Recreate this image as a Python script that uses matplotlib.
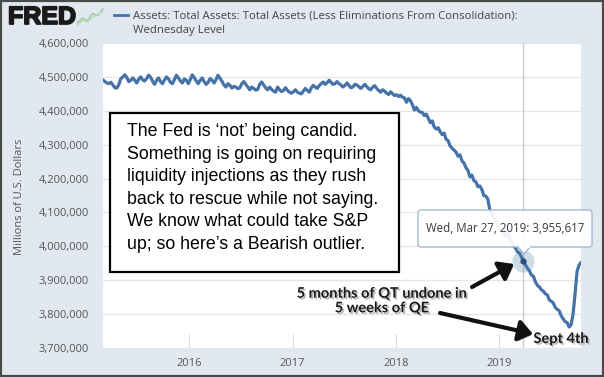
import numpy as np
import pandas as pd
import matplotlib
matplotlib.use("Agg")
import matplotlib.pyplot as plt
import matplotlib.dates as mdates
import matplotlib.ticker as mticker
import matplotlib.patheffects as pe
from matplotlib.patches import Rectangle, FancyBboxPatch, Polygon, FancyArrowPatch
from matplotlib.transforms import IdentityTransform

# weekly total assets, billions of dollars (Wednesday level)
assets_2015 = [4491, 4486, 4482, 4480,
               4484, 4476, 4468, 4467, 4478,
               4495, 4500, 4506, 4498,
               4486, 4490, 4497, 4490,
               4482, 4493, 4500, 4491, 4488,
               4495, 4505, 4499, 4487,
               4478, 4490, 4497, 4486, 4480,
               4491, 4500, 4494, 4484,
               4480, 4492, 4505, 4497,
               4488, 4482, 4494, 4490, 4480]
assets_2016 = [4492, 4506, 4498, 4488,
               4480, 4490, 4497, 4486,
               4478, 4484, 4495, 4490, 4482,
               4492, 4505, 4496, 4487,
               4476, 4470, 4480, 4475,
               4467, 4472, 4470, 4465, 4468,
               4480, 4486, 4478, 4470,
               4462, 4470, 4466, 4461, 4463,
               4478, 4485, 4476, 4468,
               4462, 4470, 4463, 4458,
               4455, 4470, 4462, 4457, 4460,
               4468, 4460, 4455, 4452]
assets_2017 = [4456, 4462, 4455, 4452,
               4450, 4458, 4466, 4460,
               4455, 4467, 4475, 4470, 4466,
               4474, 4480, 4485, 4478,
               4483, 4490, 4484, 4478, 4480,
               4486, 4480, 4476, 4470,
               4475, 4482, 4475, 4468,
               4470, 4478, 4476, 4471, 4466,
               4472, 4478, 4471, 4465,
               4462, 4470, 4474, 4466,
               4460, 4455, 4462, 4458, 4452,
               4448, 4456, 4450, 4445]
assets_2018 = [4447, 4442, 4446, 4440, 4438,
               4425, 4436, 4430, 4418,
               4402, 4410, 4400, 4396,
               4395, 4386, 4390, 4378,
               4365, 4370, 4352, 4346, 4350,
               4338, 4330, 4334, 4316,
               4312, 4296, 4290, 4284,
               4278, 4266, 4270, 4252, 4246,
               4232, 4224, 4205, 4210,
               4194, 4190, 4176, 4178, 4168,
               4150, 4148, 4140, 4108,
               4095, 4085, 4075, 4058]
assets_2019 = [4050, 4045, 4040, 4032, 4038,
               4025, 4010, 4000, 3995,
               3984, 3980, 3968, 3955.617,
               3945, 3935, 3928, 3915,
               3912, 3895, 3885, 3880, 3872,
               3868, 3860, 3857, 3842,
               3838, 3833, 3820, 3814, 3810,
               3795, 3786, 3778, 3775,
               3762, 3768, 3800, 3860,
               3925, 3945, 3952]

assets = np.array(assets_2015 + assets_2016 + assets_2017 + assets_2018 + assets_2019) * 1000
weeks = pd.date_range("2015-03-04", periods=len(assets), freq="W-WED")

tip_date = pd.Timestamp("2019-03-27")
tip_value = 3955617
year_ticks = pd.to_datetime(["2016-01-01", "2017-01-01", "2018-01-01", "2019-01-01"])

series_name = "Assets: Total Assets: Total Assets (Less Eliminations From Consolidation):\nWednesday Level"
note = ("The Fed is \u2018not\u2019 being candid.\n"
        "Something is going on requiring\n"
        "liquidity injections as they rush\n"
        "back to rescue while not saying.\n"
        "We know what could take S&P\n"
        "up; so here\u2019s a Bearish outlier.")

W, H = 604, 377
blue = "#4572a7"
gray_txt = "#555555"


def fx(x):
    return x / W


def fy(y):
    return 1 - y / H


fig = plt.figure(figsize=(W / 100, H / 100), dpi=100, facecolor="#e1e8ef")
ax = fig.add_axes([fx(103), fy(348), fx(581) - fx(103), fy(43) - fy(348)])
ax.set_facecolor("white")

ax.plot(weeks, assets, color=blue, lw=2.3, solid_joinstyle="round", zorder=3)
ax.axvline(tip_date, color="#cccccc", lw=1, zorder=2)
ax.plot([tip_date], [tip_value], "o", ms=16, color=blue, alpha=0.25, mec="none", zorder=4)
ax.plot([tip_date], [tip_value], "o", ms=3.5, color="#2b4f7e", zorder=5)

ax.set_ylim(3.7e6, 4.6e6)
ax.set_xlim(weeks[0], weeks[-1])
ax.set_yticks(np.arange(3.7e6, 4.6e6 + 1, 1e5))
ax.yaxis.set_major_formatter(mticker.FuncFormatter(lambda v, p: f"{v:,.0f}"))
ax.set_xticks(year_ticks)
ax.xaxis.set_major_formatter(mdates.DateFormatter("%Y"))
ax.grid(axis="y", color="#e6e6e6", lw=1)
for s in ax.spines.values():
    s.set_visible(False)
ax.tick_params(axis="y", length=0, pad=10, labelsize=8, labelcolor=gray_txt)
ax.tick_params(axis="x", direction="in", length=10, color="#d8dde5", pad=7,
               labelsize=8, labelcolor=gray_txt)
for lab in ax.get_xticklabels() + ax.get_yticklabels():
    lab.set_family("Open Sans")

fig.text(fx(20), fy(197), "Millions of U.S. Dollars", rotation=90, ha="center", va="center",
         fontsize=8, color=gray_txt, family="Open Sans")

# header
fig.text(fx(8), fy(17), "FRED", fontsize=18, weight="bold", color="#1a1a1a",
         family="Liberation Sans", va="center",
         path_effects=[pe.withStroke(linewidth=1.3, foreground="#1a1a1a")])
icon = fig.add_axes([fx(76), fy(26), fx(28), fy(8) - fy(26)])
icon_a = [1, 2, 1.5, 3, 2.5, 4]
icon_b = [0.5, 1.5, 1.2, 2.2, 2.8, 3.5]
icon.plot(icon_a, color="#9fc79a", lw=1)
icon.plot(icon_b, color="#b9d8b4", lw=1)
icon.axis("off")
fig.add_artist(plt.Line2D([fx(114), fx(128)], [fy(15), fy(15)], color=blue, lw=2))
fig.text(fx(133), fy(23), series_name, fontsize=8.2, color="#444444", family="Open Sans",
         va="center", linespacing=1.45)

# note box
fig.add_artist(Rectangle((fx(110), fy(272)), fx(399) - fx(110), fy(113) - fy(272),
                         transform=fig.transFigure, fc="white", ec="black", lw=1.6, zorder=6))
fig.text(fx(127), fy(123), note, fontsize=12.8, family="Liberation Sans", color="black",
         va="top", ha="left", linespacing=1.43, zorder=7)

# tooltip
ident = IdentityTransform()
fig.add_artist(FancyBboxPatch((418, H - 247), 174, 37, boxstyle="round,pad=0,rounding_size=3",
                              transform=ident, fc="white", ec="#9fb3cf", lw=1, alpha=0.92,
                              zorder=8))
fig.add_artist(Polygon([(518, H - 247), (530, H - 247), (524, H - 254)], closed=True,
                       transform=ident, fc="white", ec="#9fb3cf", lw=1, zorder=8))
fig.add_artist(Rectangle((518.5, H - 247.5), 11, 2, transform=ident, fc="white", ec="none",
                         zorder=9))
fig.text(fx(505), fy(229), "Wed, Mar 27, 2019: 3,955,617", fontsize=8.3, color="#3a3a3a",
         family="Open Sans", ha="center", va="center", zorder=9)

# callouts
shadow_txt = [pe.withSimplePatchShadow(offset=(1.2, -1.2), shadow_rgbFace="#888888", alpha=0.6)]
fig.text(fx(382), fy(301), "5 months of QT undone in\n5 weeks of QE", fontsize=10.5,
         weight="bold", family="Lato", color="#1a1a1a", ha="center", va="center",
         linespacing=1.05, zorder=9, path_effects=shadow_txt)
fig.text(fx(561), fy(339), "Sept 4th", fontsize=10.5, weight="bold", family="Lato",
         color="#1a1a1a", ha="center", va="center", zorder=9, path_effects=shadow_txt)

arrow_fx = [pe.withSimplePatchShadow(offset=(1.5, -1.5), shadow_rgbFace="#777777", alpha=0.5)]
for tail, head in [((472, 287), (514, 264)), ((440, 313), (533, 334))]:
    fig.add_artist(FancyArrowPatch(
        (fx(tail[0]), fy(tail[1])), (fx(head[0]), fy(head[1])), transform=fig.transFigure,
        arrowstyle="-|>,head_length=0.6,head_width=0.45", mutation_scale=14, lw=3,
        color="#111111", shrinkA=0, shrinkB=0, zorder=9, path_effects=arrow_fx))

# outer frame
fig.add_artist(Rectangle((0, 0), 1, 1, transform=fig.transFigure, fill=False,
                         ec="#4a4a4a", lw=3, zorder=10))

fig.savefig("out.png", dpi=100, facecolor=fig.get_facecolor())
